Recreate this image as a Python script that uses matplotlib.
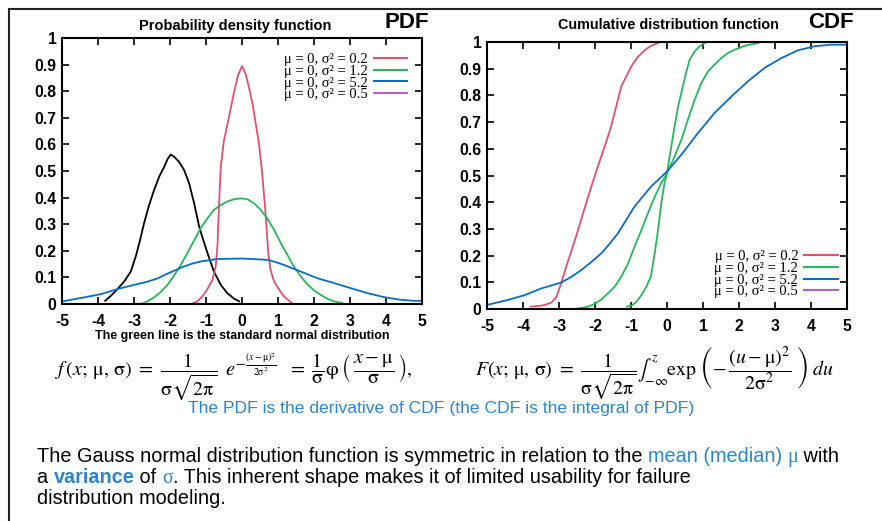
import numpy as np
import matplotlib.pyplot as plt
from matplotlib.lines import Line2D

plt.rcParams['font.family'] = ['Liberation Sans', 'DejaVu Sans']
plt.rcParams['mathtext.fontset'] = 'stix'
plt.rcParams['axes.unicode_minus'] = False

# ---- data ----
pdf_black_x = [-3.80, -3.64, -3.46, -3.27, -3.09, -2.95, -2.83, -2.72, -2.58, -2.44, -2.30, -2.16, -2.07,
               -1.98, -1.89, -1.75, -1.61, -1.47, -1.33, -1.19, -1.05, -0.91, -0.78, -0.59, -0.41, -0.22, -0.08]
pdf_black_y = [0.012, 0.031, 0.056, 0.085, 0.122, 0.179, 0.241, 0.304, 0.372, 0.429, 0.479, 0.516, 0.544,
               0.562, 0.554, 0.535, 0.504, 0.454, 0.379, 0.291, 0.229, 0.172, 0.122, 0.072, 0.041, 0.02, 0.01]

pdf_red_x = [-1.40, -1.24, -1.10, -0.96, -0.82, -0.73, -0.68, -0.67, -0.64, -0.59, -0.50, -0.36, -0.22, -0.11,
             0.0, 0.10, 0.19, 0.29, 0.38, 0.47, 0.56, 0.64, 0.68, 0.73, 0.79, 0.89, 1.03, 1.16, 1.38]
pdf_red_y = [0.0, 0.01, 0.029, 0.056, 0.091, 0.141, 0.222, 0.266, 0.366, 0.516, 0.616, 0.704, 0.797, 0.86,
             0.894, 0.866, 0.816, 0.754, 0.679, 0.604, 0.491, 0.366, 0.291, 0.191, 0.129, 0.085, 0.054, 0.029, 0.004]

pdf_green_x = [-2.81, -2.63, -2.44, -2.26, -2.07, -1.89, -1.70, -1.52, -1.33, -1.15, -0.96, -0.78, -0.59, -0.41,
               -0.22, -0.04, 0.15, 0.33, 0.52, 0.70, 0.89, 1.07, 1.26, 1.44, 1.63, 1.81, 2.00, 2.18, 2.37, 2.55, 2.78]
pdf_green_y = [0.0, 0.01, 0.025, 0.045, 0.072, 0.106, 0.147, 0.191, 0.239, 0.285, 0.322, 0.354, 0.372, 0.385,
               0.394, 0.397, 0.394, 0.379, 0.354, 0.322, 0.279, 0.231, 0.185, 0.141, 0.104, 0.075, 0.051, 0.035, 0.02, 0.01, 0.004]

pdf_blue_x = [-4.98, -4.38, -3.92, -3.46, -3.0, -2.65, -2.35, -2.07, -1.84, -1.61, -1.38, -1.15, -0.68, 0.0,
              0.70, 0.93, 1.16, 1.63, 2.09, 2.55, 3.01, 3.48, 3.94, 4.40, 4.77, 4.97]
pdf_blue_y = [0.01, 0.025, 0.037, 0.056, 0.072, 0.083, 0.096, 0.114, 0.128, 0.141, 0.152, 0.16, 0.169, 0.171,
              0.166, 0.158, 0.147, 0.122, 0.097, 0.079, 0.06, 0.041, 0.026, 0.016, 0.012, 0.012]

cdf_red_x = [-3.79, -3.58, -3.40, -3.21, -3.07, -2.94, -2.80, -2.66, -2.47, -2.29, -2.10, -1.92, -1.73, -1.55,
             -1.41, -1.27, -1.13, -0.99, -0.81, -0.62, -0.44, -0.25]
cdf_red_y = [0.009, 0.011, 0.015, 0.024, 0.046, 0.096, 0.159, 0.215, 0.296, 0.377, 0.459, 0.534, 0.609, 0.684,
             0.759, 0.834, 0.871, 0.909, 0.944, 0.969, 0.986, 0.996]

cdf_green1_x = [-1.11, -0.99, -0.85, -0.71, -0.57, -0.45, -0.34, -0.25, -0.16, -0.07, 0.0, 0.12, 0.21, 0.31,
                0.44, 0.54, 0.63, 0.77, 0.91, 1.05]
cdf_green1_y = [0.009, 0.012, 0.027, 0.052, 0.084, 0.121, 0.209, 0.296, 0.396, 0.471, 0.509, 0.609, 0.684, 0.759,
                0.834, 0.89, 0.934, 0.965, 0.984, 0.996]

cdf_green2_x = [-2.58, -2.38, -2.19, -2.01, -1.82, -1.64, -1.45, -1.27, -1.08, -0.90, -0.71, -0.53, -0.34, -0.16,
                0.0, 0.21, 0.40, 0.58, 0.77, 0.95, 1.14, 1.32, 1.51, 1.69, 1.88, 2.16, 2.53]
cdf_green2_y = [0.0, 0.004, 0.009, 0.019, 0.036, 0.059, 0.084, 0.121, 0.171, 0.234, 0.296, 0.359, 0.421, 0.471,
                0.509, 0.571, 0.634, 0.709, 0.784, 0.846, 0.89, 0.915, 0.94, 0.959, 0.971, 0.986, 0.996]

cdf_blue_x = [-4.97, -4.42, -3.95, -3.49, -2.94, -2.66, -2.38, -2.10, -1.82, -1.59, -1.36, -1.13, -0.90, -0.44,
              0.0, 0.40, 0.86, 1.32, 1.79, 2.25, 2.71, 3.18, 3.64, 4.10, 4.56, 5.0]
cdf_blue_y = [0.016, 0.034, 0.052, 0.077, 0.099, 0.12, 0.146, 0.176, 0.209, 0.245, 0.284, 0.334, 0.384, 0.459,
              0.515, 0.578, 0.659, 0.734, 0.796, 0.853, 0.903, 0.94, 0.969, 0.984, 0.99, 0.99]

legend_labels = ['μ = 0, σ² = 0.2', 'μ = 0, σ² = 1.2', 'μ = 0, σ² = 5.2', 'μ = 0, σ² = 0.5']
xticks = [-5, -4, -3, -2, -1, 0, 1, 2, 3, 4, 5]
yticks = [0, 0.1, 0.2, 0.3, 0.4, 0.5, 0.6, 0.7, 0.8, 0.9, 1]
ytick_labels = ['0', '0.1', '0.2', '0.3', '0.4', '0.5', '0.6', '0.7', '0.8', '0.9', '1']

RED = '#e3506c'
GREEN = '#26b75c'
BLUE = '#0b6cc2'
PURPLE = '#b45fc6'
TXTBLUE = '#2a86d1'
colors = [RED, GREEN, BLUE, PURPLE]

fig = plt.figure(figsize=(8.82, 5.21), dpi=100)
W, H = 882, 521

# outer frame (top and left)
fig.add_artist(Line2D([9 / W, 1], [1 - 9 / H, 1 - 9 / H], color='#222222', lw=1.5))
fig.add_artist(Line2D([9 / W, 9 / W], [0, 1 - 9 / H], color='#222222', lw=1.5))


def style_ax(ax):
    ax.set_xlim(-5, 5)
    ax.set_ylim(0, 1)
    ax.set_xticks(xticks)
    ax.set_yticks(yticks)
    ax.set_yticklabels(ytick_labels)
    ax.tick_params(direction='in', length=5, width=1.2, top=True, right=True,
                   labelsize=11.3)
    ax.tick_params(axis='x', pad=7)
    ax.tick_params(axis='y', pad=4)
    for lab in ax.get_xticklabels() + ax.get_yticklabels():
        lab.set_fontweight('bold')
    for s in ax.spines.values():
        s.set_linewidth(1.5)


def legend(ax, anchor):
    handles = [Line2D([], [], color=c, lw=1.5) for c in colors]
    ax.legend(handles, legend_labels, loc='upper right', bbox_to_anchor=anchor,
              frameon=False, markerfirst=False, handlelength=2.3, handletextpad=0.4,
              labelspacing=-0.1, borderaxespad=0,
              prop={'family': 'Liberation Serif', 'size': 10.5})


ax1 = fig.add_axes([62 / W, 1 - 304 / H, 360 / W, 266 / H])
ax1.plot(pdf_black_x, pdf_black_y, color='black', lw=1.3)
ax1.plot(pdf_red_x, pdf_red_y, color=RED, lw=1.3)
ax1.plot(pdf_green_x, pdf_green_y, color=GREEN, lw=1.3)
ax1.plot(pdf_blue_x, pdf_blue_y, color=BLUE, lw=1.3)
style_ax(ax1)
legend(ax1, (0.975, 0.966))
ax1.set_xlabel('The green line is the standard normal distribution', fontsize=9,
               fontweight='bold', labelpad=1)

ax2 = fig.add_axes([487 / W, 1 - 309 / H, 360 / W, 267 / H])
ax2.plot(cdf_red_x, cdf_red_y, color=RED, lw=1.3)
ax2.plot(cdf_green1_x, cdf_green1_y, color=GREEN, lw=1.3)
ax2.plot(cdf_green2_x, cdf_green2_y, color=GREEN, lw=1.3)
ax2.plot(cdf_blue_x, cdf_blue_y, color=BLUE, lw=1.3)
style_ax(ax2)
legend(ax2, (0.99, 0.243))

# titles
fig.text(235 / W, 1 - 26 / H, 'Probability density function', ha='center', va='center',
         fontsize=10.5, fontweight='bold')
fig.text(407 / W, 1 - 23 / H, 'PDF', ha='center', va='center', fontsize=16, fontweight='bold')
fig.text(668 / W, 1 - 25 / H, 'Cumulative distribution function', ha='center', va='center',
         fontsize=10.4, fontweight='bold')
fig.text(831 / W, 1 - 22 / H, 'CDF', ha='center', va='center', fontsize=16, fontweight='bold')

# formulas
fig.text(55 / W, 1 - 377 / H,
         r'$f\,(x;\,\mathrm{\mu},\,\mathrm{\sigma})\ =\ \dfrac{1}{\mathrm{\sigma}\sqrt{2\mathrm{\pi}}}\ \,'
         r'e^{-\frac{(x-\mathrm{\mu})^2}{2\mathrm{\sigma}^2}}\ \ =\ \dfrac{1}{\mathrm{\sigma}}\mathrm{\varphi}\;'
         r'\left(\,\dfrac{x-\mathrm{\mu}}{\mathrm{\sigma}}\,\right),$',
         ha='left', va='center', fontsize=14.5)
fig.text(475 / W, 1 - 373 / H,
         r'$F(x;\,\mathrm{\mu},\,\mathrm{\sigma})\ =\ \dfrac{1}{\mathrm{\sigma}\sqrt{2\mathrm{\pi}}}'
         r'\int_{-\infty}^{z}\mathrm{exp}\;\left(-\,\dfrac{(u-\mathrm{\mu})^2}{2\mathrm{\sigma}^2}\;\right)\;du$',
         ha='left', va='center', fontsize=14.3)

fig.text(441 / W, 1 - 408 / H,
         'The PDF is the derivative of CDF (the CDF is the integral of PDF)',
         ha='center', va='center', fontsize=12.6, color=TXTBLUE)

# paragraph with coloured pieces
renderer = fig.canvas.get_renderer()


def line(pieces, x, y):
    for txt, kw in pieces:
        t = fig.text(x / W, 1 - y / H, txt, ha='left', va='baseline', fontsize=14.3, **kw)
        bb = t.get_window_extent(renderer)
        x += bb.width


line([('The Gauss normal distribution function is symmetric in relation to the ', {}),
      ('mean (median) ', {'color': TXTBLUE}),
      ('μ', {'color': TXTBLUE, 'family': 'Liberation Serif'}),
      (' with', {})], 37, 462)
line([('a ', {}),
      ('variance', {'color': TXTBLUE, 'fontweight': 'bold'}),
      (' of ', {}),
      ('σ', {'color': TXTBLUE, 'family': 'Liberation Serif'}),
      ('. This inherent shape makes it of limited usability for failure', {})], 37, 483)
line([('distribution modeling.', {})], 37, 504)

fig.savefig('out.png', dpi=100)
